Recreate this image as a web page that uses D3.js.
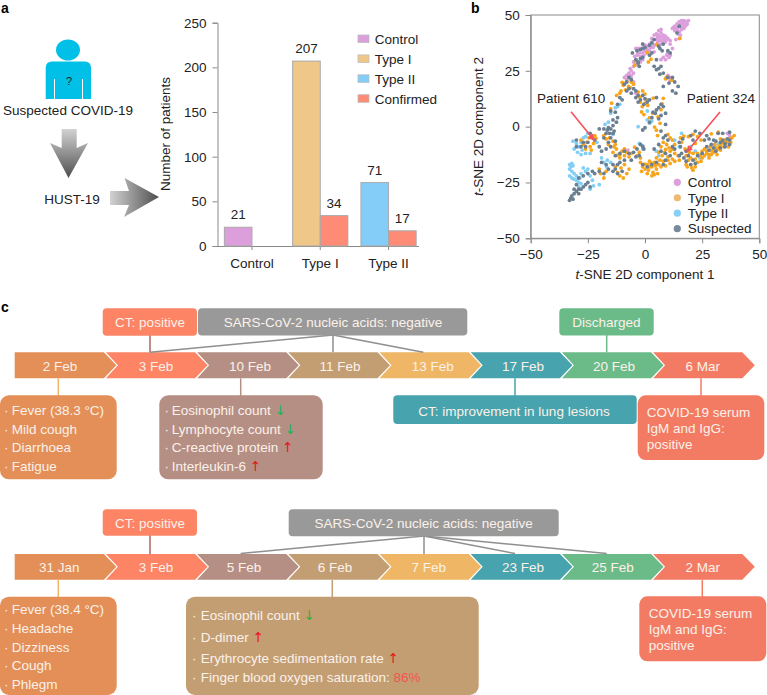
<!DOCTYPE html>
<html>
<head>
<meta charset="utf-8">
<script src="https://d3js.org/d3.v7.min.js"></script>
<style>
html, body { margin: 0; padding: 0; background: #fff; }
svg { display: block; }
text { font-family: "Liberation Sans", Arial, sans-serif; font-size: 13.5px; fill: #222; }
text.light { fill: #fbf1ea; }
</style>
</head>
<body>
<script>
// panel a
var barGroups = ["Control", "Type I", "Type II"];
var barKeys = ["Control", "Type I", "Type II", "Confirmed"];
var firstBars = [21, 207, 71];
var confirmedBars = [null, 34, 17];
var yTicksBar = [0, 50, 100, 150, 200, 250];

// panel b as [x, y]
var controlPts = [[12,44],[13,45],[14,46],[15,47],[16,47.5],[17,47.5],[18,47],[19,47.5],[17,46],[15,45],[13,43],[14,43.5],[16,44.5],[18,45.5],[17,44],[15,42.5],[14.5,41.5],[15,39.5],[13.5,39],[4,41],[5,41.5],[6,41],[7,42],[8,41],[9,40.5],[10,39.5],[8,39.5],[6,38.5],[9,38],[7,37],[5,39],[11,37],[3,38],[4,36.5],[2,37],[1,36],[0,36.5],[-1,37],[-2,35],[-3,35],[-4,35],[0,34],[2,34],[4,33.5],[1,33],[-1,33],[-3,33],[10,33],[8,31],[9,30],[7,30],[11,32],[-5,27],[-4,28],[-5,29],[-4,30],[-3,27.5],[-1,30],[-2,29],[-6,25],[-7,24],[-8,23],[-9,22],[-6,23],[-8,21],[-5,20],[-6,21.5],[10,23],[11,22],[12,21],[11,20.5],[9,21.5],[-4,15],[5,13],[36,-3],[37,-4],[-7.5,-10.5],[-8,-11],[12.5,44.5],[13.5,44],[14.5,44.5],[15.5,46],[16.5,46],[17.5,45],[18.5,46],[16,43.5],[15.5,41],[5.5,40],[6.5,40],[7.5,40.5],[8.5,39],[9.5,39],[7,38.5],[8,37.5],[5.5,37.5],[3.5,35.5],[2.5,35.5],[1,34.5],[-0.5,35],[-2.5,33],[-3.5,32],[-2,31.5],[-0.5,32],[9.5,32],[10.5,31],[-7,22.5],[-5,24],[-6.5,26],[3,39.5],[6,43],[7,43.5],[11,38.5],[12,35],[-4.5,31.5]];
var typeIPts = [[15.3,39.5],[5.1,36.8],[0.9,33.2],[-3.9,29.5],[2.6,30.2],[-4.5,27.5],[1.5,29],[9.5,22.3],[11.7,20.8],[9,21.5],[-9.5,18.5],[-10.5,16],[-8.5,16.5],[-7.2,18],[-6,20],[-5,19],[-11,15],[-6.5,17.5],[-10,19.8],[-8,20.3],[-12.4,14],[-14.6,10.5],[-15,8],[-3,15.5],[-2.2,13.2],[0,14.6],[-1,16],[1,12],[-2,11],[0,10.5],[-1.2,9],[1.2,9.5],[3.6,12.8],[8,12.7],[7.5,10.2],[7,7.6],[5.7,4.4],[3.4,6],[2,4],[-1.5,6.6],[-0.5,5.4],[6.6,1.5],[5,-1.6],[4.2,-0.2],[5.5,-4],[10,-3.5],[11,-5],[12,-6],[8,-7],[9.5,-8],[13,-8],[7,-9],[9,-10.2],[11,-11],[13,-12],[14.5,-13],[6,-11.5],[7.5,-13],[10,-13.5],[12,-14.5],[15,-15],[8,-15.5],[5,-14],[4,-16],[11,-16.5],[6,-17],[-2,-16],[-1,-18],[0,-19],[1,-17],[2,-15.5],[1.5,-19.5],[3,-18],[3.5,-20.5],[5,-19],[5.5,-21],[-1.5,-20],[7,-18],[0,-16.8],[2.5,-16.2],[4,-21.5],[17.5,-10],[18,-13],[19,-15],[20,-17],[21,-12],[22,-14.5],[23,-16],[24,-13],[25,-11],[19.5,-11.5],[22,-18],[18,-17],[24.5,-15.5],[21,-19.5],[26,-13],[27,-12],[28,-12.5],[29,-10.8],[30,-11.5],[31,-9.5],[32,-10],[33,-8],[30.5,-8],[34,-7.2],[35,-6],[36,-7],[37,-5.5],[38,-5],[39,-4],[33,-5.5],[28.5,-9],[26,-10],[31.5,-12.5],[34.5,-9],[28,-14],[36.5,-9],[15.5,-5],[17,-4.2],[19,-4.5],[21,-3.5],[23,-4.5],[24.5,-6],[22,-7.5],[16,-7],[29,-3.2],[32,-2.5],[-28,-6],[-27,-8],[-25.5,-7],[-24,-9],[-26,-10],[-24.5,-5],[-22.5,-7.5],[-23.5,-10.5],[-21.5,-5.2],[-22,-4],[-18,-4],[-17,-5.5],[-15.5,-5],[-14,-6.5],[-16,-8],[-13,-8],[-12.5,-10],[-14,-11.5],[-12,-12.8],[-10,-11],[-9,-13],[-8,-11.5],[-7,-13.5],[-11,-14],[-4.5,-9.2],[-3.5,-13],[-2.5,-11.5],[-2,-14],[-13,-18],[-12,-20.5],[-10.5,-18.5],[-9,-17],[-8,-21],[-9.5,-23],[-7,-19],[-11,-22],[-19.5,-21],[-18,-23],[-17,-20],[-20,-19],[10.5,-9.5],[12,-10],[8.5,-11.5],[10,-15],[13,-15.5],[9,-17.5],[6.5,-15],[1,-21],[3,-22],[2,-18],[4.5,-17.5],[20,-14],[23,-12],[18.5,-18],[20.5,-18.5],[25,-14],[29,-12.5],[30,-10],[32.5,-9],[35,-8],[37.5,-7],[33,-10.5],[27,-11],[-9,-10],[-11,-12.5],[-6,-12],[-13.5,-9]];
var typeIIPts = [[-29,-9],[-28,-7],[-30,-7.5],[-31,-10],[-29.5,-11.5],[-27.5,-10.5],[-26,-4.5],[-25,-3],[-23.5,-4],[-27,-5],[-31.5,-6.5],[-26,-12],[-24,-12],[-28,-12.5],[-18,-16],[-16.5,-15],[-19,-14],[-15,-16],[-16.8,-18],[-21,-7],[-14,-3.5],[-33,-17],[-32.5,-18],[-32,-16.5],[-31.5,-17.5],[-33,-19],[-32,-20],[-31,-21],[-33,-22],[-32,-23],[-31,-23.5],[-30,-22],[-30,-24],[-29,-25],[-28,-25.5],[-28.5,-23],[-26,-20],[-25,-19],[-27,-18.5],[-28,-21],[-29,-27],[-24,-22],[-23,-24],[-24,-28],[-22.5,-26.5],[-20,-26],[-11,10],[-12,9],[-13,8.5],[-15,6],[-16,2],[-17.5,1],[-3,0],[1,3],[2,1.5],[3,2.5],[-1,-10],[1,7],[-2.5,-7.5],[13,-6],[5,-11],[15,-9],[20,-9],[24,-14],[22,-11],[28,-13],[32,-8],[16,-3],[6,-13],[-1,-8.5]];
var suspectedPts = [[15,45],[14,42],[8,37],[4,39],[6,36],[3,37.5],[2,36.5],[-1,35],[-3.5,34],[-5.5,33],[-1,37],[6.5,35],[7.5,34],[10,34],[11,33],[-2,34.5],[0,35.5],[3,33],[2,32],[-3,29],[-2,30.5],[-1,31],[-4,30],[-2.5,27],[-3,28.5],[5,25.5],[6,26],[4,27],[5,30],[7,27],[8,24],[6.5,23.5],[10,22],[12,22],[10.5,19.5],[8,18],[12,16],[13.5,15],[14.5,18],[13,20],[-15,7],[-12,10],[-10,12],[-8,16],[-7,17],[-8,20],[-7,22],[-6,21],[-9,19],[-5,17],[-4,16],[-3,14],[-6,15],[-11,13],[-14,3],[-12.5,2],[-14,0.5],[-12,4],[-13,6.5],[-16,-0.5],[-15.5,-3],[-16.5,-1.5],[-15,-1],[-13.5,-2],[-18,-1],[-17,-3],[-14,-3],[-15,-5],[-4,13],[-2,12],[-1,14],[0,12.5],[-3,11],[-0.5,10],[1,11],[2,12],[5,13],[7,10],[6,8.5],[8,9],[5,7.5],[4.5,6],[3.5,6.5],[7,5],[6,3.5],[2,2],[-1,-1.5],[0,-0.5],[3,4],[9,6],[9,1],[7,-2],[9,-4],[10,-6],[-1,-9],[-2,-8],[-0.5,-10],[-25,-7],[-27,-7],[-24,-3],[-22,-6],[-28,-9],[-30,-9],[-26,-9],[-30,-6],[-20,-1],[-18,-5],[-16,-7],[-15,-9],[-13,-6.5],[-20,-9],[-19,-11],[-17,-10],[-13,-13],[-11,-12],[-9,-11],[-7,-12],[-5,-11.5],[-3.5,-10],[-4,-13.5],[-2.5,-13],[-19,-16],[-17,-17],[-16,-19],[-14,-17],[-12,-17],[-13,-19],[-11,-16],[-9,-15],[-6,-15],[-14,-20],[-12,-21],[-10,-20],[-22,-21],[-20,-20],[-18,-21],[-23,-20],[-25,-21],[-27,-22],[-29,-23],[-25,-25],[-30,-26],[-29,-28],[-30,-29],[-31,-30],[-32,-31],[-32.5,-32],[-31,-28],[-29,-30],[-28,-28],[-27,-27],[-26,-26],[-24,-27],[-31.5,-32.5],[-33,-33],[8,-5],[6,-8],[4,-10],[7,-11],[9,-12],[12,-9],[11,-13],[13,-10],[15,-13],[17,-14],[16,-12],[-1,-17],[1,-18],[3,-17],[5,-16],[8,-17],[9,-15],[18,-11],[19,-13],[21,-15],[18,-15.5],[23,-13],[20,-17],[22,-16.5],[27,-9],[29,-8],[25,-12],[28,-10.5],[30,-9.5],[31,-11],[33,-9.5],[34,-6],[35,-7.5],[36,-5.5],[37,-6],[37,-8],[33,-7],[35,-9],[31,-6.5],[20,-4],[21,-6],[22,-2],[24,-3],[27,-4],[26,-6],[28,-5.5],[30,-6],[15,-7],[15.5,-9],[32,-3],[34,-3],[37,-2.5],[16.5,-5.5]];
var tsneTicks = [-50, -25, 0, 25, 50];
var scatterKeys = ["Control", "Type I", "Type II", "Suspected"];
var patient610 = [-22.5, -5.8];
var patient324 = [18.5, -11];

// panel c
var datesTop = ["2 Feb", "3 Feb", "10 Feb", "11 Feb", "13 Feb", "17 Feb", "20 Feb", "6 Mar"];
var datesBottom = ["31 Jan", "3 Feb", "5 Feb", "6 Feb", "7 Feb", "23 Feb", "25 Feb", "2 Mar"];
var symptomsTop = ["Fever (38.3 °C)", "Mild cough", "Diarrhoea", "Fatigue"];
var symptomsBottom = ["Fever (38.4 °C)", "Headache", "Dizziness", "Cough", "Phlegm"];
var labsTop = ["Eosinophil count", "Lymphocyte count", "C-reactive protein", "Interleukin-6"];
var labsTopMarks = ["↓", "↓", "↑", "↑"];
var labsBottom = ["Eosinophil count", "D-dimer", "Erythrocyte sedimentation rate", "Finger blood oxygen saturation:"];
var labsBottomMarks = ["↓", "↑", "↑", "86%"];
var serumLines = ["COVID-19 serum", "IgM and IgG:", "positive"];

var chevronColors = ["#e38f57", "#fd8465", "#b58f84", "#c49e73", "#efb765", "#47a3ad", "#6bbb89", "#f37b63"];

var svg = d3.select("body").append("svg")
    .attr("width", 767)
    .attr("height", 695);

var defs = svg.append("defs");
var gradDown = defs.append("linearGradient").attr("id", "gradDown")
    .attr("x1", 0).attr("y1", 0).attr("x2", 0).attr("y2", 1);
gradDown.append("stop").attr("offset", 0).attr("stop-color", "#d2d2d2");
gradDown.append("stop").attr("offset", 1).attr("stop-color", "#4e4e4e");
var gradRight = defs.append("linearGradient").attr("id", "gradRight")
    .attr("x1", 0).attr("y1", 0).attr("x2", 1).attr("y2", 0);
gradRight.append("stop").attr("offset", 0).attr("stop-color", "#d2d2d2");
gradRight.append("stop").attr("offset", 1).attr("stop-color", "#4e4e4e");

function panelLetter(s, x, y) {
  svg.append("text").attr("x", x).attr("y", y).text(s)
      .style("font-weight", "bold").style("font-size", "14px").style("fill", "#000");
}
panelLetter("a", 1, 13);
panelLetter("b", 471, 13);
panelLetter("c", 1, 312);

// person and arrows
var icon = svg.append("g");
icon.append("ellipse").attr("cx", 68).attr("cy", 50).attr("rx", 12).attr("ry", 10.5).attr("fill", "#00c0e8");
icon.append("path").attr("fill", "#00c0e8")
    .attr("d", "M52,61.5H85Q91,61.5 91,68V99H83V79H82V99H55V79H54V99H45.7V68Q45.7,61.5 52,61.5Z");
icon.append("text").attr("x", 69).attr("y", 85).attr("text-anchor", "middle").style("font-size", "11px").text("?");
svg.append("text").attr("x", 68).attr("y", 114.5).attr("text-anchor", "middle").text("Suspected COVID-19");
svg.append("text").attr("x", 72).attr("y", 204).attr("text-anchor", "middle").text("HUST-19");
svg.append("path").attr("fill", "url(#gradDown)")
    .attr("d", "M61.7,129H76.7V148L88,143L68.5,178L50,143L61.7,148Z");
svg.append("path").attr("fill", "url(#gradRight)")
    .attr("d", "M110,191H129L124.5,178L159,197L124,217L129,205H110Z");

// bar chart
var xBar = d3.scaleBand().domain(barGroups).range([217.8, 422.7]);
var yBar = d3.scaleLinear().domain([0, 250]).range([246, 22.7]);
var barColor = d3.scaleOrdinal().domain(barKeys).range(["#dd9fdc", "#efc789", "#84cdf9", "#fd8b76"]);
var barW = 27.6;

var gBarY = svg.append("g").attr("transform", "translate(217.5,0)")
    .call(d3.axisLeft(yBar).tickValues(yTicksBar).tickSize(5).tickPadding(6));
var gBarX = svg.append("g").attr("transform", "translate(0,246)")
    .call(d3.axisBottom(xBar).tickSize(4).tickPadding(8));
gBarX.select(".domain").attr("d", "M217.5,0.5H419");
[gBarX, gBarY].forEach(function(g) {
  g.selectAll(".domain, .tick line").attr("stroke", "#8a8a8a");
  g.selectAll("text").style("font-size", "13.5px").style("font-family", "Liberation Sans").style("fill", "#222");
});

barGroups.forEach(function(g, i) {
  var mid = xBar(g) + xBar.bandwidth() / 2;
  var bars = [{key: g, v: firstBars[i], x: mid - barW}, {key: "Confirmed", v: confirmedBars[i], x: mid}];
  bars.forEach(function(b) {
    if (b.v === null) return;
    svg.append("rect").attr("x", b.x).attr("y", yBar(b.v))
        .attr("width", barW).attr("height", yBar(0) - yBar(b.v))
        .attr("fill", barColor(b.key)).attr("stroke", "#a9a9a9").attr("stroke-width", 1);
    svg.append("text").attr("x", b.x + barW / 2).attr("y", yBar(b.v) - 8)
        .attr("text-anchor", "middle").text(b.v);
  });
});

svg.append("text").attr("transform", "translate(170,134) rotate(-90)")
    .attr("text-anchor", "middle").text("Number of patients");

barKeys.forEach(function(k, i) {
  var ly = 35 + i * 19.9;
  svg.append("rect").attr("x", 358).attr("y", ly).attr("width", 11).attr("height", 7.6)
      .attr("fill", barColor(k)).attr("stroke", "#bdbdbd").attr("stroke-width", 0.8);
  svg.append("text").attr("x", 374.7).attr("y", ly + 9).text(k);
});

// t-SNE scatter
var xTsne = d3.scaleLinear().domain([-50, 50]).range([530.7, 759.3]);
var yTsne = d3.scaleLinear().domain([-50, 50]).range([238.3, 15]);
var tsneFmt = function(d) { return d < 0 ? "\u2212" + (-d) : d; };

var gTsneX = svg.append("g").attr("transform", "translate(0,238.3)")
    .call(d3.axisBottom(xTsne).tickValues(tsneTicks).tickFormat(tsneFmt).tickSize(5).tickPadding(6));
var gTsneY = svg.append("g").attr("transform", "translate(530.7,0)")
    .call(d3.axisLeft(yTsne).tickValues(tsneTicks).tickFormat(tsneFmt).tickSize(5).tickPadding(6));
[gTsneX, gTsneY].forEach(function(g) {
  g.selectAll(".domain, .tick line").attr("stroke", "#8a8a8a");
  g.selectAll("text").style("font-size", "13.5px").style("font-family", "Liberation Sans").style("fill", "#222");
});
svg.append("rect").attr("x", 530.7).attr("y", 15).attr("width", 228.6).attr("height", 223.3)
    .attr("fill", "none").attr("stroke", "#8a8a8a");

var scatterColor = d3.scaleOrdinal().domain(scatterKeys).range(["#dc9fdc", "#f9a51c", "#82cef6", "#6b7f92"]);
var legendColor = d3.scaleOrdinal().domain(scatterKeys).range(["#dc9fdc", "#efb96f", "#88cff8", "#7a8a9c"]);

function dots(pts, key) {
  svg.append("g").selectAll("circle").data(pts).enter().append("circle")
      .attr("cx", function(d) { return xTsne(d[0]); })
      .attr("cy", function(d) { return yTsne(d[1]); })
      .attr("r", 1.9)
      .attr("fill", scatterColor(key));
}
dots(controlPts, "Control");
dots(typeIIPts, "Type II");
dots(typeIPts, "Type I");
dots(suspectedPts, "Suspected");

function pointer(target, fromX, fromY) {
  var tx = xTsne(target[0]), ty = yTsne(target[1]);
  var a = Math.atan2(ty - fromY, tx - fromX);
  svg.append("line").attr("x1", fromX).attr("y1", fromY).attr("x2", tx).attr("y2", ty)
      .attr("stroke", "#f9505a").attr("stroke-width", 1.6);
  var pts = [[tx + 2 * Math.cos(a), ty + 2 * Math.sin(a)],
             [tx - 5 * Math.cos(a) + 3.2 * Math.sin(a), ty - 5 * Math.sin(a) - 3.2 * Math.cos(a)],
             [tx - 5 * Math.cos(a) - 3.2 * Math.sin(a), ty - 5 * Math.sin(a) + 3.2 * Math.cos(a)]];
  svg.append("path").attr("d", d3.line()(pts) + "Z").attr("fill", "#f9505a");
}
pointer(patient610, 571, 111.7);
pointer(patient324, 720, 112);
svg.append("text").attr("x", 537).attr("y", 103).text("Patient 610");
svg.append("text").attr("x", 686.7).attr("y", 103).text("Patient 324");

scatterKeys.forEach(function(k, i) {
  var ly = 182.3 + i * 15.45;
  svg.append("circle").attr("cx", 677.3).attr("cy", ly).attr("r", 3.6).attr("fill", legendColor(k));
  svg.append("text").attr("x", 687.7).attr("y", ly + 4.8).text(k);
});

var xTitle = svg.append("text").attr("x", 645).attr("y", 279).attr("text-anchor", "middle");
xTitle.append("tspan").style("font-style", "italic").text("t");
xTitle.append("tspan").text("-SNE 2D component 1");
var yTitle = svg.append("text").attr("transform", "translate(483,126.5) rotate(-90)").attr("text-anchor", "middle");
yTitle.append("tspan").style("font-style", "italic").text("t");
yTitle.append("tspan").text("-SNE 2D component 2");

// timelines
var chevStep = 91.2;
function timeline(dates, top, bottom, labelY, labelOffsets) {
  var xChev = d3.scaleBand().domain(dates).range([14.7, 14.7 + chevStep * dates.length]);
  var mid = (top + bottom) / 2;
  dates.forEach(function(d, i) {
    var l = xChev(d), r = l + chevStep - 2;
    var pts = [[l, top], [r, top], [r + 12.5, mid], [r, bottom], [l, bottom]];
    if (i > 0) pts.push([l + 12, mid]);
    svg.append("path").attr("d", d3.line()(pts) + "Z").attr("fill", chevronColors[i]);
    svg.append("text").attr("class", "light").attr("x", labelOffsets[i]).attr("y", labelY)
        .attr("text-anchor", "middle").text(d);
  });
}
timeline(datesTop, 352.3, 378.3, 371, [60, 156, 250, 340, 432.7, 523, 614, 702.7]);
timeline(datesBottom, 554, 579.7, 572.3, [59.3, 156, 244, 335, 428.7, 523, 612.7, 702.7]);

function box(x0, y0, x1, y1, r, color) {
  svg.append("rect").attr("x", x0).attr("y", y0).attr("width", x1 - x0).attr("height", y1 - y0)
      .attr("rx", r).attr("ry", r).attr("fill", color);
}
function wire(x1, y1, x2, y2, color) {
  svg.append("line").attr("x1", x1).attr("y1", y1).attr("x2", x2).attr("y2", y2)
      .attr("stroke", color).attr("stroke-width", 1.5);
}
function boxLabel(s, x, y) {
  svg.append("text").attr("class", "light").attr("x", x).attr("y", y)
      .attr("text-anchor", "middle").text(s);
}
// bulleted text, with an optional coloured mark after the line
function bulletList(lines, marks, dotX, textX, ys) {
  lines.forEach(function(s, i) {
    svg.append("text").attr("class", "light").attr("x", dotX).attr("y", ys[i]).text("·");
    var t = svg.append("text").attr("class", "light").attr("x", textX).attr("y", ys[i]).text(s);
    if (marks) {
      var m = marks[i];
      t.append("tspan").text(" ");
      t.append("tspan").text(m)
          .style("font-family", m === "86%" ? "Liberation Sans" : "DejaVu Sans")
          .style("fill", m === "↓" ? "#22b24c" : (m === "↑" ? "#e8141c" : "#f0554f"));
    }
  });
}

// upper timeline boxes
wire(150, 335, 150, 352.3, "#a8675a");
wire(333, 335, 150, 352.3, "#8f8f8f");
wire(333, 335, 333, 352.3, "#8f8f8f");
wire(333, 335, 423.3, 352.3, "#8f8f8f");
wire(606.7, 335, 606.7, 352.3, "#6bbb89");
wire(58.3, 378.3, 58.3, 396, "#efb765");
wire(240.7, 378.3, 240.7, 396, "#b58f84");
wire(515, 378.3, 515, 396, "#47a3ad");
wire(701, 378.3, 701, 396, "#f37b63");
box(102.7, 308.3, 197, 335.7, 4, "#fd8465");
boxLabel("CT: positive", 150, 326.7);
box(198, 308.3, 467.3, 335.5, 4, "#999999");
boxLabel("SARS-CoV-2 nucleic acids: negative", 333, 326.7);
box(559.3, 308.3, 653.7, 335.5, 4, "#6bbb89");
boxLabel("Discharged", 606.5, 326.7);
box(0, 395.3, 116.7, 479.3, 9, "#e38f57");
bulletList(symptomsTop, null, 4, 11.7, [415, 433.7, 452, 470.7]);
box(159.3, 395.3, 322.7, 479.3, 9, "#b58f84");
bulletList(labsTop, labsTopMarks, 164.5, 171.7, [415, 433.7, 452, 470.7]);
box(393.3, 395.3, 636.7, 424, 4, "#47a3ad");
boxLabel("CT: improvement in lung lesions", 514, 415.7);
box(637.7, 395.3, 764.3, 460, 8, "#f37b63");
serumLines.forEach(function(s, i) {
  svg.append("text").attr("class", "light").attr("x", 646.7).attr("y", 416.7 + i * 16.2).text(s);
});

// lower timeline boxes
wire(150, 535, 150, 554, "#a8675a");
wire(424, 536, 240.7, 553.5, "#8f8f8f");
wire(424, 536, 424, 554, "#8f8f8f");
wire(424, 536, 515, 553.5, "#8f8f8f");
wire(424, 536, 606.7, 553.5, "#8f8f8f");
wire(58.3, 579.7, 58.3, 597, "#efb765");
wire(332.3, 579.7, 332.3, 597, "#c49e73");
wire(702.3, 579.7, 702.3, 597, "#f37b63");
box(102.7, 509.3, 197, 535.7, 4, "#fd8465");
boxLabel("CT: positive", 150, 527.7);
box(288.7, 509.3, 558.7, 536.3, 4, "#999999");
boxLabel("SARS-CoV-2 nucleic acids: negative", 423.7, 528);
box(0, 596.7, 116.7, 695, 9, "#e38f57");
bulletList(symptomsBottom, null, 4, 11.7, [614.3, 633.3, 651.7, 670, 688.7]);
box(186, 596.7, 478.7, 695, 9, "#c49e73");
bulletList(labsBottom, labsBottomMarks, 192, 200.7, [620, 641.7, 663.3, 682.3]);
box(639.3, 596.3, 766.3, 661.3, 8, "#f37b63");
serumLines.forEach(function(s, i) {
  svg.append("text").attr("class", "light").attr("x", 648.7).attr("y", 618 + i * 16.2).text(s);
});
</script>
</body>
</html>
